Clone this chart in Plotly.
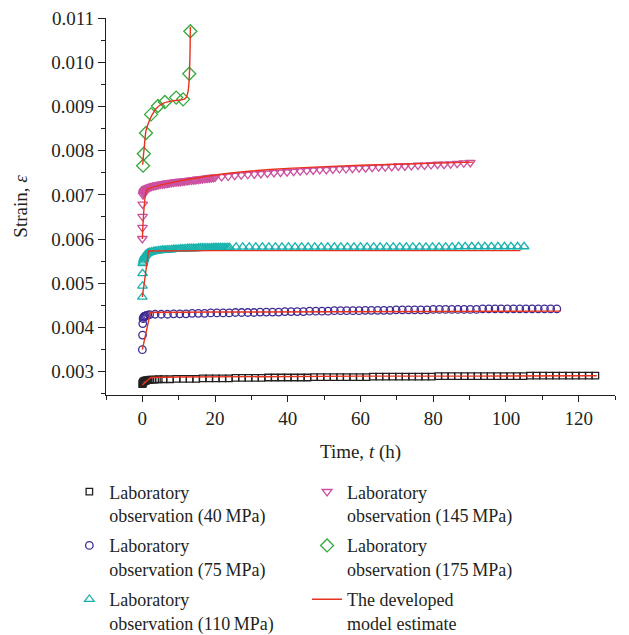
import plotly.graph_objects as go

# ---------------- data ----------------
# 40 MPa
T40 = [0.0, 0.05, 0.1, 0.2, 0.3, 0.4, 0.6, 0.8, 1.0, 1.3, 1.7, 2.2, 2.8, 3.5, 4.5,
       5.8, 7.6, 9.4, 11.2, 13.0, 14.8, 16.6, 18.4, 20.2, 22.0,
       23.8, 25.6, 27.4, 29.2, 31.0, 32.8, 34.6, 36.4, 38.2, 40.0,
       41.8, 43.6, 45.4, 47.2, 49.0, 50.8, 52.6, 54.4, 56.2, 58.0,
       59.8, 61.6, 63.4, 65.2, 67.0, 68.8, 70.6, 72.4, 74.2, 76.0,
       77.8, 79.6, 81.4, 83.2, 85.0, 86.8, 88.6, 90.4, 92.2, 94.0,
       95.8, 97.6, 99.4, 101.2, 103.0, 104.8, 106.6, 108.4, 110.2, 112.0,
       113.8, 115.6, 117.4, 119.2, 121.0, 122.8, 124.6]
E40 = [0.00272, 0.00273, 0.00275, 0.00276, 0.00277, 0.00278, 0.00279, 0.0028, 0.0028, 0.00281,
       0.00281, 0.00282, 0.00282, 0.00282, 0.00283,
       0.00283, 0.00283, 0.00284, 0.00284, 0.00284, 0.00284, 0.00285, 0.00285, 0.00285, 0.00285,
       0.00285, 0.00286, 0.00286, 0.00286, 0.00286, 0.00286, 0.00287, 0.00287, 0.00287, 0.00287,
       0.00287, 0.00287, 0.00287, 0.00288, 0.00288, 0.00288, 0.00288, 0.00288, 0.00288, 0.00288,
       0.00288, 0.00288, 0.00289, 0.00289, 0.00289, 0.00289, 0.00289, 0.00289, 0.00289, 0.00289,
       0.00289, 0.00289, 0.0029, 0.0029, 0.0029, 0.0029, 0.0029, 0.0029, 0.0029, 0.0029,
       0.0029, 0.0029, 0.0029, 0.0029, 0.0029, 0.0029, 0.00291, 0.00291, 0.00291, 0.00291,
       0.00291, 0.00291, 0.00291, 0.00291, 0.00291, 0.00291, 0.00291]
TM40 = [0.0, 2.3, 10.0, 30.0, 60.0, 90.0, 125.0]
EM40 = [0.0027, 0.00287, 0.00288, 0.00289, 0.0029, 0.0029, 0.00291]

# 75 MPa
T75 = [0.0, 0.05, 0.1, 0.2, 0.35, 0.5, 0.7, 1.0, 1.4, 2.0,
       3.5, 5.2, 6.9, 8.6, 10.3, 12.0, 13.7, 15.4, 17.1, 18.8,
       20.5, 22.2, 23.9, 25.6, 27.3, 29.0, 30.7, 32.4, 34.1, 35.8,
       37.5, 39.2, 40.9, 42.6, 44.3, 46.0, 47.7, 49.4, 51.1, 52.8,
       54.5, 56.2, 57.9, 59.6, 61.3, 63.0, 64.7, 66.4, 68.1, 69.8,
       71.5, 73.2, 74.9, 76.6, 78.3, 80.0, 81.7, 83.4, 85.1, 86.8,
       88.5, 90.2, 91.9, 93.6, 95.3, 97.0, 98.7, 100.4, 102.1, 103.8,
       105.5, 107.2, 108.9, 110.6, 112.3, 114.0]
E75 = [0.0035, 0.00383, 0.00409, 0.0042, 0.00423, 0.00425, 0.00426, 0.00427, 0.00428, 0.00429,
       0.0043, 0.0043, 0.0043, 0.00431, 0.00431, 0.00431, 0.00432, 0.00432, 0.00432, 0.00433,
       0.00433, 0.00433, 0.00433, 0.00434, 0.00434, 0.00434, 0.00434, 0.00435, 0.00435, 0.00435,
       0.00435, 0.00436, 0.00436, 0.00436, 0.00436, 0.00437, 0.00437, 0.00437, 0.00437, 0.00438,
       0.00438, 0.00438, 0.00438, 0.00438, 0.00439, 0.00439, 0.00439, 0.00439, 0.00439, 0.0044,
       0.0044, 0.0044, 0.0044, 0.0044, 0.0044, 0.00441, 0.00441, 0.00441, 0.00441, 0.00441,
       0.00441, 0.00441, 0.00441, 0.00442, 0.00442, 0.00442, 0.00442, 0.00442, 0.00442, 0.00442,
       0.00442, 0.00442, 0.00442, 0.00442, 0.00442, 0.00442]
TM75 = [0.0, 2.2, 20.0, 50.0, 115.0]
EM75 = [0.0035, 0.00434, 0.00435, 0.00436, 0.00437]

# 110 MPa
T110 = [0.0, 0.03, 0.06, 0.1,
        0.2, 0.3, 0.4, 0.5, 0.7, 0.9, 1.1, 1.4, 1.7, 2.0,
        2.5, 3.0, 3.5, 4.0, 4.5, 5.0, 5.5, 6.0, 6.5, 7.0,
        7.5, 8.0, 8.5, 9.0, 9.5, 10.0, 10.5, 11.0, 11.5, 12.0,
        12.5, 13.0, 13.5, 14.0, 14.5, 15.0, 15.5, 16.0, 16.5, 17.0,
        17.5, 18.0, 18.5, 19.0, 19.5, 20.0, 20.5, 21.0, 21.5, 22.0,
        22.5, 23.0, 23.5, 24.0,
        25.8, 27.6, 29.4, 31.2, 33.0, 34.8, 36.6, 38.4, 40.2, 42.0,
        43.8, 45.6, 47.4, 49.2, 51.0, 52.8, 54.6, 56.4, 58.2, 60.0,
        61.8, 63.6, 65.4, 67.2, 69.0, 70.8, 72.6, 74.4, 76.2, 78.0,
        79.8, 81.6, 83.4, 85.2, 87.0, 88.8, 90.6, 92.4, 94.2, 96.0,
        97.8, 99.6, 101.4, 103.2, 105.0]
E110 = [0.00469, 0.00494, 0.00522, 0.00545,
        0.00548, 0.00553, 0.00556, 0.00559, 0.00562, 0.00564, 0.00566, 0.00568, 0.00569, 0.0057,
        0.00571, 0.00572, 0.00573, 0.00573, 0.00574, 0.00574, 0.00575, 0.00575, 0.00575, 0.00576,
        0.00576, 0.00576, 0.00577, 0.00577, 0.00577, 0.00577, 0.00578, 0.00578, 0.00578, 0.00578,
        0.00579, 0.00579, 0.00579, 0.00579, 0.00579, 0.00579, 0.0058, 0.0058, 0.0058, 0.0058,
        0.0058, 0.0058, 0.0058, 0.0058, 0.00581, 0.00581, 0.00581, 0.00581, 0.00581, 0.00581,
        0.00581, 0.00581, 0.00581, 0.00581,
        0.00582, 0.00582, 0.00582, 0.00582, 0.00582, 0.00582, 0.00582, 0.00582, 0.00582, 0.00582,
        0.00582, 0.00582, 0.00582, 0.00582, 0.00582, 0.00582, 0.00582, 0.00582, 0.00582, 0.00582,
        0.00582, 0.00582, 0.00582, 0.00582, 0.00582, 0.00582, 0.00582, 0.00582, 0.00582, 0.00582,
        0.00582, 0.00582, 0.00582, 0.00582, 0.00583, 0.00583, 0.00583, 0.00583, 0.00583, 0.00583,
        0.00583, 0.00583, 0.00583, 0.00583, 0.00583]
TM110 = [0.0, 1.7, 20.0, 60.0, 104.0]
EM110 = [0.00469, 0.00573, 0.00574, 0.00574, 0.00574]

# 145 MPa
T145 = [0.0, 0.03, 0.06, 0.1,
        0.2, 0.3, 0.4, 0.5, 0.7, 0.9, 1.1, 1.4, 1.7, 2.0,
        2.5, 3.0, 3.5, 4.0, 4.5, 5.0, 5.5, 6.0, 6.5, 7.0,
        7.5, 8.0, 8.5, 9.0, 9.5, 10.0, 10.5, 11.0, 11.5, 12.0,
        12.5, 13.0, 13.5, 14.0, 14.5, 15.0, 15.5, 16.0, 16.5, 17.0,
        17.5, 18.0, 18.5, 19.0, 19.5, 20.0,
        21.8, 23.6, 25.4, 27.2, 29.0, 30.8, 32.6, 34.4, 36.2, 38.0,
        39.8, 41.6, 43.4, 45.2, 47.0, 48.8, 50.6, 52.4, 54.2, 56.0,
        57.8, 59.6, 61.4, 63.2, 65.0, 66.8, 68.6, 70.4, 72.2, 74.0,
        75.8, 77.6, 79.4, 81.2, 83.0, 84.8, 86.6, 88.4, 90.2]
E145 = [0.00601, 0.00626, 0.00651, 0.00679,
        0.007, 0.00704, 0.00706, 0.00708, 0.0071, 0.00712, 0.00714, 0.00715, 0.00716, 0.00717,
        0.00719, 0.0072, 0.00721, 0.00722, 0.00723, 0.00724, 0.00724, 0.00725, 0.00726, 0.00726,
        0.00727, 0.00728, 0.00728, 0.00729, 0.00729, 0.0073, 0.0073, 0.00731, 0.00731, 0.00732,
        0.00732, 0.00733, 0.00733, 0.00734, 0.00734, 0.00735, 0.00735, 0.00736, 0.00736, 0.00737,
        0.00737, 0.00738, 0.00738, 0.00739, 0.00739, 0.0074,
        0.00741, 0.00742, 0.00744, 0.00745, 0.00746, 0.00747, 0.00748, 0.00749, 0.0075, 0.00751,
        0.00752, 0.00753, 0.00754, 0.00755, 0.00756, 0.00757, 0.00757, 0.00758, 0.00759, 0.00759,
        0.0076, 0.00761, 0.00761, 0.00762, 0.00763, 0.00763, 0.00764, 0.00765, 0.00765, 0.00766,
        0.00767, 0.00767, 0.00768, 0.00769, 0.00769, 0.0077, 0.00771, 0.00772, 0.00773]
TM145 = [0.0, 1.3, 5.0, 10.0, 20.0, 30.0, 40.0, 60.0, 91.0]
EM145 = [0.006, 0.00712, 0.00722, 0.00731, 0.00745, 0.00754, 0.0076, 0.00767, 0.00774]

# 175 MPa
T175 = [0.2, 0.4, 1.0, 2.4, 4.3, 6.2, 9.3, 11.2, 12.9, 13.2]
E175 = [0.00766, 0.00793, 0.0084, 0.00882, 0.00901, 0.0091, 0.0092, 0.00916, 0.00974, 0.0107]
TM175 = [0.1, 0.3, 0.5, 0.7, 1.0, 1.7, 2.5, 4.0, 6.0, 8.0, 10.0, 11.4, 12.1, 12.6, 12.9, 13.05, 13.15, 13.2]
EM175 = [0.00768, 0.0079, 0.00805, 0.00825, 0.00845, 0.00863, 0.00878, 0.00897, 0.00908, 0.00912,
         0.00914, 0.00916, 0.00921, 0.00935, 0.00965, 0.0100, 0.0104, 0.0108]

# ---------------- styles ----------------
FONT = "Liberation Serif"
TXT = "#231f20"
RED = "#e8321e"
SERIES = [
    ("Laboratory<br>observation (40\u2009MPa)", T40, E40, "square-open", "#231f20", 6.5, "legend", "g1"),
    ("Laboratory<br>observation (75\u2009MPa)", T75, E75, "circle-open", "#3d2b92", 7.5, "legend", "g2"),
    ("Laboratory<br>observation (110\u2009MPa)", T110, E110, "triangle-up-open", "#18b2ad", 8.5, "legend", "g3"),
    ("Laboratory<br>observation (145\u2009MPa)", T145, E145, "triangle-down-open", "#cc4fa0", 8.5, "legend2", "g4"),
    ("Laboratory<br>observation (175\u2009MPa)", T175, E175, "diamond-open", "#33a93a", 10, "legend2", "g5"),
]
MODELS = [(TM40, EM40, "linear"), (TM75, EM75, "linear"), (TM110, EM110, "linear"),
          (TM145, EM145, "spline"), (TM175, EM175, "spline")]

fig = go.Figure()
for name, t, e, sym, col, size, lg, grp in SERIES:
    fig.add_trace(go.Scatter(
        x=t, y=e, mode="markers", name=name, legend=lg, legendgroup=grp,
        marker=dict(symbol=sym, size=size, color=col, line=dict(width=1.3, color=col)),
    ))
for i, (t, e, shape) in enumerate(MODELS):
    fig.add_trace(go.Scatter(
        x=t, y=e, mode="lines", name="The developed<br>model estimate",
        legend="legend2", showlegend=(i == 0), legendgroup="model",
        line=dict(color=RED, width=1.4, shape=shape, smoothing=0.5),
    ))

axis_common = dict(
    showline=True, linecolor=TXT, linewidth=1.3, ticks="outside", tickcolor=TXT,
    tickwidth=1.3, showgrid=False, zeroline=False, mirror=False,
    tickfont=dict(family=FONT, size=19, color=TXT),
)
fig.update_xaxes(
    **axis_common, range=[-10, 130], tick0=0, dtick=20, ticklen=6,
    minor=dict(ticks="outside", dtick=10, ticklen=3.5, tickcolor=TXT, tickwidth=1.3),
    title=dict(text="Time, <i>t</i> (h)", font=dict(family=FONT, size=19, color=TXT), standoff=16),
)
fig.update_yaxes(
    **axis_common, range=[0.002474, 0.011], tick0=0.003, dtick=0.001, ticklen=7,
    tickformat=".3f",
    minor=dict(ticks="outside", dtick=0.0005, ticklen=4, tickcolor=TXT, tickwidth=1.3),
    title=dict(text="Strain, <i>ε</i>", font=dict(family=FONT, size=19, color=TXT), standoff=18),
)

leg_common = dict(
    font=dict(family=FONT, size=18, color=TXT), bgcolor="rgba(0,0,0,0)",
    borderwidth=0, valign="top", yanchor="top", xanchor="left", tracegroupgap=4,
    traceorder="grouped",
)
fig.update_layout(
    width=629, height=635,
    margin=dict(l=106, r=14, t=18, b=240, autoexpand=False),
    paper_bgcolor="white", plot_bgcolor="white",
    legend=dict(**leg_common, x=-0.072, y=-0.208),
    legend2=dict(**leg_common, x=0.395, y=-0.208),
    showlegend=True,
)

fig.write_html("out.html")
